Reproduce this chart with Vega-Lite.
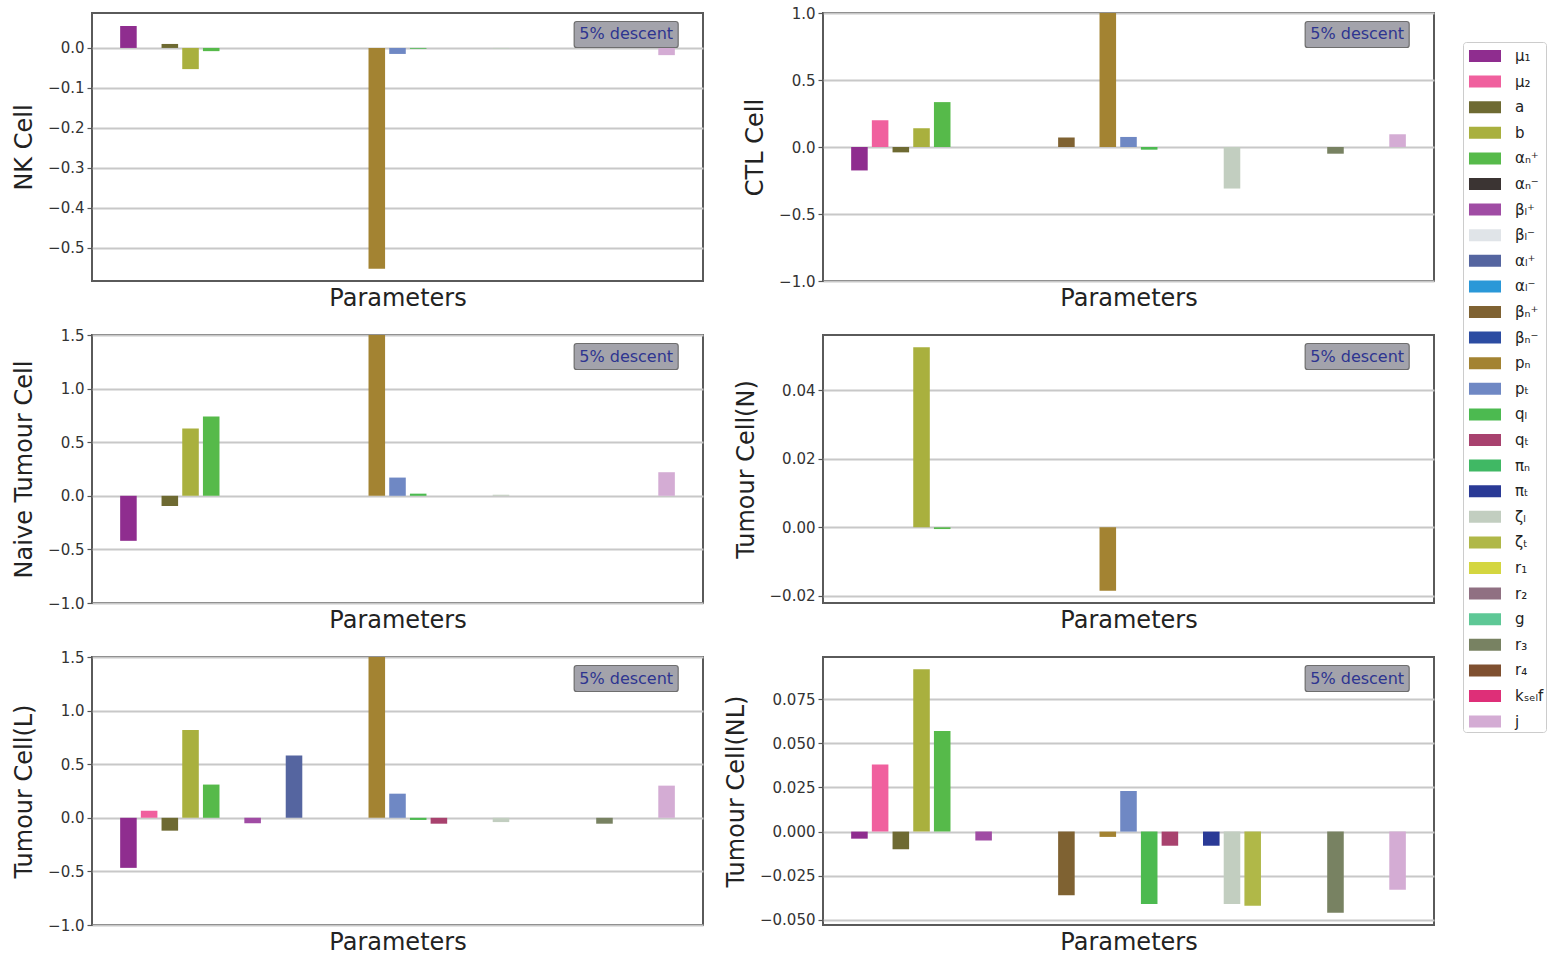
{
  "$schema": "https://vega.github.io/schema/vega-lite/v6.json",
  "padding": {"left": 11, "top": 5, "right": 0, "bottom": 5},
  "background": "white",
  "config": {
    "font": "DejaVu Sans",
    "view": {"stroke": "#5a5a5a", "strokeWidth": 2},
    "axisY": {
      "domain": false, "ticks": true, "tickColor": "#555555", "tickSize": 5, "tickWidth": 1.2,
      "labelFontSize": 15, "labelColor": "#333333", "labelPadding": 3,
      "titleFontSize": 24, "titleFontWeight": "normal", "titleColor": "#222222", "titlePadding": 11,
      "grid": true, "gridColor": "#c8c8c8", "gridWidth": 2, "zindex": 1
    },
    "axisX": {
      "domain": false, "ticks": false, "labels": false, "grid": false,
      "titleFontSize": 24, "titleFontWeight": "normal", "titleColor": "#222222", "titlePadding": 5
    },
    "legend": {
      "orient": "none", "legendX": 1371, "legendY": 29,
      "strokeColor": "#cccccc", "fillColor": "white", "cornerRadius": 3, "padding": 2,
      "symbolType": "M-0.667,-0.5H2V0.5H-0.667Z", "symbolSize": 576, "symbolStrokeWidth": 0,
      "symbolOpacity": 1, "labelFontSize": 15, "labelColor": "#222222", "labelOffset": 26,
      "rowPadding": 5.6, "labelLimit": 200
    }
  },
  "datasets": {
    "nk": [
      {"param": "μ₁", "value": 0.055}, {"param": "a", "value": 0.01}, {"param": "b", "value": -0.053},
      {"param": "αₙ⁺", "value": -0.008}, {"param": "pₙ", "value": -0.553}, {"param": "pₜ", "value": -0.015},
      {"param": "qₗ", "value": -0.002}, {"param": "ζₗ", "value": -0.002}, {"param": "j", "value": -0.018}
    ],
    "ctl": [
      {"param": "μ₁", "value": -0.175}, {"param": "μ₂", "value": 0.2}, {"param": "a", "value": -0.04},
      {"param": "b", "value": 0.14}, {"param": "αₙ⁺", "value": 0.335}, {"param": "βₙ⁺", "value": 0.07},
      {"param": "pₙ", "value": 1.4}, {"param": "pₜ", "value": 0.075}, {"param": "qₗ", "value": -0.02},
      {"param": "ζₗ", "value": -0.31}, {"param": "r₃", "value": -0.05}, {"param": "j", "value": 0.095}
    ],
    "naive": [
      {"param": "μ₁", "value": -0.42}, {"param": "a", "value": -0.095}, {"param": "b", "value": 0.627},
      {"param": "αₙ⁺", "value": 0.74}, {"param": "pₙ", "value": 2.0}, {"param": "pₜ", "value": 0.17},
      {"param": "qₗ", "value": 0.02}, {"param": "ζₗ", "value": 0.01}, {"param": "j", "value": 0.22}
    ],
    "tn": [
      {"param": "b", "value": 0.0525}, {"param": "αₙ⁺", "value": -0.0005}, {"param": "pₙ", "value": -0.0185}
    ],
    "tl": [
      {"param": "μ₁", "value": -0.467}, {"param": "μ₂", "value": 0.065}, {"param": "a", "value": -0.12},
      {"param": "b", "value": 0.82}, {"param": "αₙ⁺", "value": 0.31}, {"param": "βₗ⁺", "value": -0.05},
      {"param": "αₗ⁺", "value": 0.58}, {"param": "pₙ", "value": 2.0}, {"param": "pₜ", "value": 0.225},
      {"param": "qₗ", "value": -0.02}, {"param": "qₜ", "value": -0.055}, {"param": "ζₗ", "value": -0.04},
      {"param": "r₃", "value": -0.055}, {"param": "j", "value": 0.3}
    ],
    "nl": [
      {"param": "μ₁", "value": -0.004}, {"param": "μ₂", "value": 0.038}, {"param": "a", "value": -0.01},
      {"param": "b", "value": 0.092}, {"param": "αₙ⁺", "value": 0.057}, {"param": "βₗ⁺", "value": -0.005},
      {"param": "βₙ⁺", "value": -0.036}, {"param": "pₙ", "value": -0.003}, {"param": "pₜ", "value": 0.023},
      {"param": "qₗ", "value": -0.041}, {"param": "qₜ", "value": -0.008}, {"param": "πₜ", "value": -0.008},
      {"param": "ζₗ", "value": -0.041}, {"param": "ζₜ", "value": -0.042}, {"param": "r₃", "value": -0.046},
      {"param": "j", "value": -0.033}
    ],
    "note": [{"note": "5% descent"}]
  },
  "columns": 2,
  "bounds": "flush",
  "spacing": {"row": 54, "column": 120},
  "resolve": {"scale": {"color": "shared"}},
  "concat": [
    {
      "width": 611, "height": 268,
      "layer": [
        {
          "data": {"name": "nk"},
          "mark": {"type": "bar", "clip": true},
          "encoding": {
            "x": {"field": "param", "type": "nominal", "scale": {"domain": ["pad-left","μ₁","μ₂","a","b","αₙ⁺","αₙ⁻","βₗ⁺","βₗ⁻","αₗ⁺","αₗ⁻","βₙ⁺","βₙ⁻","pₙ","pₜ","qₗ","qₜ","πₙ","πₜ","ζₗ","ζₜ","r₁","r₂","g","r₃","r₄","kₛₑₗf","j","pad-right"], "paddingInner": 0.2, "paddingOuter": 0.36}, "axis": {"title": "Parameters"}},
            "y": {"field": "value", "type": "quantitative", "scale": {"domain": [-0.5835, 0.0875], "nice": false, "zero": false}, "axis": {"title": "NK Cell", "values": [-0.5, -0.4, -0.3, -0.2, -0.1, 0.0], "format": ".1f"}},
            "color": {"field": "param", "type": "nominal", "scale": {"domain": ["μ₁","μ₂","a","b","αₙ⁺","αₙ⁻","βₗ⁺","βₗ⁻","αₗ⁺","αₗ⁻","βₙ⁺","βₙ⁻","pₙ","pₜ","qₗ","qₜ","πₙ","πₜ","ζₗ","ζₜ","r₁","r₂","g","r₃","r₄","kₛₑₗf","j"], "range": ["#8f2d8f","#f0609e","#6e6a32","#a9b03e","#56ba4a","#3b3433","#a04ca4","#e0e4e8","#5565a0","#2a98d8","#7f6232","#2c4ca2","#a38332","#6f88c4","#4cba50","#a8426e","#40b864","#2a3a96","#c2cec0","#b0b848","#d4d640","#907082","#5ec896","#788262","#7f5030","#de2f78","#d4acd4"]}, "legend": {"title": null}}
          }
        },
        {
          "data": {"name": "note"},
          "mark": {"type": "point", "shape": "M-1.9,-0.5H1.9Q2,-0.5 2,-0.4V0.4Q2,0.5 1.9,0.5H-1.9Q-2,0.5 -2,0.4V-0.4Q-2,-0.5 -1.9,-0.5Z", "size": 2704, "filled": true, "fill": "#a3a3ab", "stroke": "#6e6e6e", "strokeWidth": 1.2, "opacity": 1, "xOffset": 1},
          "encoding": {"x": {"datum": "r₄", "type": "nominal"}, "y": {"datum": 0.0337, "type": "quantitative"}}
        },
        {
          "data": {"name": "note"},
          "mark": {"type": "text", "fontSize": 16, "color": "#2e3590", "xOffset": 1},
          "encoding": {"x": {"datum": "r₄", "type": "nominal"}, "y": {"datum": 0.0337, "type": "quantitative"}, "text": {"field": "note"}}
        }
      ]
    },
    {
      "width": 611, "height": 268,
      "layer": [
        {
          "data": {"name": "ctl"},
          "mark": {"type": "bar", "clip": true},
          "encoding": {
            "x": {"field": "param", "type": "nominal", "scale": {"domain": ["pad-left","μ₁","μ₂","a","b","αₙ⁺","αₙ⁻","βₗ⁺","βₗ⁻","αₗ⁺","αₗ⁻","βₙ⁺","βₙ⁻","pₙ","pₜ","qₗ","qₜ","πₙ","πₜ","ζₗ","ζₜ","r₁","r₂","g","r₃","r₄","kₛₑₗf","j","pad-right"], "paddingInner": 0.2, "paddingOuter": 0.36}, "axis": {"title": "Parameters"}},
            "y": {"field": "value", "type": "quantitative", "scale": {"domain": [-1, 1], "nice": false, "zero": false}, "axis": {"title": "CTL Cell", "values": [-1, -0.5, 0, 0.5, 1], "format": ".1f"}},
            "color": {"field": "param", "type": "nominal", "scale": {"domain": ["μ₁","μ₂","a","b","αₙ⁺","αₙ⁻","βₗ⁺","βₗ⁻","αₗ⁺","αₗ⁻","βₙ⁺","βₙ⁻","pₙ","pₜ","qₗ","qₜ","πₙ","πₜ","ζₗ","ζₜ","r₁","r₂","g","r₃","r₄","kₛₑₗf","j"], "range": ["#8f2d8f","#f0609e","#6e6a32","#a9b03e","#56ba4a","#3b3433","#a04ca4","#e0e4e8","#5565a0","#2a98d8","#7f6232","#2c4ca2","#a38332","#6f88c4","#4cba50","#a8426e","#40b864","#2a3a96","#c2cec0","#b0b848","#d4d640","#907082","#5ec896","#788262","#7f5030","#de2f78","#d4acd4"]}, "legend": {"title": null}}
          }
        },
        {
          "data": {"name": "note"},
          "mark": {"type": "point", "shape": "M-1.9,-0.5H1.9Q2,-0.5 2,-0.4V0.4Q2,0.5 1.9,0.5H-1.9Q-2,0.5 -2,0.4V-0.4Q-2,-0.5 -1.9,-0.5Z", "size": 2704, "filled": true, "fill": "#a3a3ab", "stroke": "#6e6e6e", "strokeWidth": 1.2, "opacity": 1, "xOffset": 1},
          "encoding": {"x": {"datum": "r₄", "type": "nominal"}, "y": {"datum": 0.8396, "type": "quantitative"}}
        },
        {
          "data": {"name": "note"},
          "mark": {"type": "text", "fontSize": 16, "color": "#2e3590", "xOffset": 1},
          "encoding": {"x": {"datum": "r₄", "type": "nominal"}, "y": {"datum": 0.8396, "type": "quantitative"}, "text": {"field": "note"}}
        }
      ]
    },
    {
      "width": 611, "height": 268,
      "layer": [
        {
          "data": {"name": "naive"},
          "mark": {"type": "bar", "clip": true},
          "encoding": {
            "x": {"field": "param", "type": "nominal", "scale": {"domain": ["pad-left","μ₁","μ₂","a","b","αₙ⁺","αₙ⁻","βₗ⁺","βₗ⁻","αₗ⁺","αₗ⁻","βₙ⁺","βₙ⁻","pₙ","pₜ","qₗ","qₜ","πₙ","πₜ","ζₗ","ζₜ","r₁","r₂","g","r₃","r₄","kₛₑₗf","j","pad-right"], "paddingInner": 0.2, "paddingOuter": 0.36}, "axis": {"title": "Parameters"}},
            "y": {"field": "value", "type": "quantitative", "scale": {"domain": [-1, 1.5], "nice": false, "zero": false}, "axis": {"title": "Naive Tumour Cell", "values": [-1, -0.5, 0, 0.5, 1, 1.5], "format": ".1f"}},
            "color": {"field": "param", "type": "nominal", "scale": {"domain": ["μ₁","μ₂","a","b","αₙ⁺","αₙ⁻","βₗ⁺","βₗ⁻","αₗ⁺","αₗ⁻","βₙ⁺","βₙ⁻","pₙ","pₜ","qₗ","qₜ","πₙ","πₜ","ζₗ","ζₜ","r₁","r₂","g","r₃","r₄","kₛₑₗf","j"], "range": ["#8f2d8f","#f0609e","#6e6a32","#a9b03e","#56ba4a","#3b3433","#a04ca4","#e0e4e8","#5565a0","#2a98d8","#7f6232","#2c4ca2","#a38332","#6f88c4","#4cba50","#a8426e","#40b864","#2a3a96","#c2cec0","#b0b848","#d4d640","#907082","#5ec896","#788262","#7f5030","#de2f78","#d4acd4"]}, "legend": {"title": null}}
          }
        },
        {
          "data": {"name": "note"},
          "mark": {"type": "point", "shape": "M-1.9,-0.5H1.9Q2,-0.5 2,-0.4V0.4Q2,0.5 1.9,0.5H-1.9Q-2,0.5 -2,0.4V-0.4Q-2,-0.5 -1.9,-0.5Z", "size": 2704, "filled": true, "fill": "#a3a3ab", "stroke": "#6e6e6e", "strokeWidth": 1.2, "opacity": 1, "xOffset": 1},
          "encoding": {"x": {"datum": "r₄", "type": "nominal"}, "y": {"datum": 1.2994, "type": "quantitative"}}
        },
        {
          "data": {"name": "note"},
          "mark": {"type": "text", "fontSize": 16, "color": "#2e3590", "xOffset": 1},
          "encoding": {"x": {"datum": "r₄", "type": "nominal"}, "y": {"datum": 1.2994, "type": "quantitative"}, "text": {"field": "note"}}
        }
      ]
    },
    {
      "width": 611, "height": 268,
      "layer": [
        {
          "data": {"name": "tn"},
          "mark": {"type": "bar", "clip": true},
          "encoding": {
            "x": {"field": "param", "type": "nominal", "scale": {"domain": ["pad-left","μ₁","μ₂","a","b","αₙ⁺","αₙ⁻","βₗ⁺","βₗ⁻","αₗ⁺","αₗ⁻","βₙ⁺","βₙ⁻","pₙ","pₜ","qₗ","qₜ","πₙ","πₜ","ζₗ","ζₜ","r₁","r₂","g","r₃","r₄","kₛₑₗf","j","pad-right"], "paddingInner": 0.2, "paddingOuter": 0.36}, "axis": {"title": "Parameters"}},
            "y": {"field": "value", "type": "quantitative", "scale": {"domain": [-0.02205, 0.05605], "nice": false, "zero": false}, "axis": {"title": "Tumour Cell(N)", "values": [-0.02, 0, 0.02, 0.04], "format": ".2f"}},
            "color": {"field": "param", "type": "nominal", "scale": {"domain": ["μ₁","μ₂","a","b","αₙ⁺","αₙ⁻","βₗ⁺","βₗ⁻","αₗ⁺","αₗ⁻","βₙ⁺","βₙ⁻","pₙ","pₜ","qₗ","qₜ","πₙ","πₜ","ζₗ","ζₜ","r₁","r₂","g","r₃","r₄","kₛₑₗf","j"], "range": ["#8f2d8f","#f0609e","#6e6a32","#a9b03e","#56ba4a","#3b3433","#a04ca4","#e0e4e8","#5565a0","#2a98d8","#7f6232","#2c4ca2","#a38332","#6f88c4","#4cba50","#a8426e","#40b864","#2a3a96","#c2cec0","#b0b848","#d4d640","#907082","#5ec896","#788262","#7f5030","#de2f78","#d4acd4"]}, "legend": {"title": null}}
          }
        },
        {
          "data": {"name": "note"},
          "mark": {"type": "point", "shape": "M-1.9,-0.5H1.9Q2,-0.5 2,-0.4V0.4Q2,0.5 1.9,0.5H-1.9Q-2,0.5 -2,0.4V-0.4Q-2,-0.5 -1.9,-0.5Z", "size": 2704, "filled": true, "fill": "#a3a3ab", "stroke": "#6e6e6e", "strokeWidth": 1.2, "opacity": 1, "xOffset": 1},
          "encoding": {"x": {"datum": "r₄", "type": "nominal"}, "y": {"datum": 0.04978, "type": "quantitative"}}
        },
        {
          "data": {"name": "note"},
          "mark": {"type": "text", "fontSize": 16, "color": "#2e3590", "xOffset": 1},
          "encoding": {"x": {"datum": "r₄", "type": "nominal"}, "y": {"datum": 0.04978, "type": "quantitative"}, "text": {"field": "note"}}
        }
      ]
    },
    {
      "width": 611, "height": 268,
      "layer": [
        {
          "data": {"name": "tl"},
          "mark": {"type": "bar", "clip": true},
          "encoding": {
            "x": {"field": "param", "type": "nominal", "scale": {"domain": ["pad-left","μ₁","μ₂","a","b","αₙ⁺","αₙ⁻","βₗ⁺","βₗ⁻","αₗ⁺","αₗ⁻","βₙ⁺","βₙ⁻","pₙ","pₜ","qₗ","qₜ","πₙ","πₜ","ζₗ","ζₜ","r₁","r₂","g","r₃","r₄","kₛₑₗf","j","pad-right"], "paddingInner": 0.2, "paddingOuter": 0.36}, "axis": {"title": "Parameters"}},
            "y": {"field": "value", "type": "quantitative", "scale": {"domain": [-1, 1.5], "nice": false, "zero": false}, "axis": {"title": "Tumour Cell(L)", "values": [-1, -0.5, 0, 0.5, 1, 1.5], "format": ".1f"}},
            "color": {"field": "param", "type": "nominal", "scale": {"domain": ["μ₁","μ₂","a","b","αₙ⁺","αₙ⁻","βₗ⁺","βₗ⁻","αₗ⁺","αₗ⁻","βₙ⁺","βₙ⁻","pₙ","pₜ","qₗ","qₜ","πₙ","πₜ","ζₗ","ζₜ","r₁","r₂","g","r₃","r₄","kₛₑₗf","j"], "range": ["#8f2d8f","#f0609e","#6e6a32","#a9b03e","#56ba4a","#3b3433","#a04ca4","#e0e4e8","#5565a0","#2a98d8","#7f6232","#2c4ca2","#a38332","#6f88c4","#4cba50","#a8426e","#40b864","#2a3a96","#c2cec0","#b0b848","#d4d640","#907082","#5ec896","#788262","#7f5030","#de2f78","#d4acd4"]}, "legend": {"title": null}}
          }
        },
        {
          "data": {"name": "note"},
          "mark": {"type": "point", "shape": "M-1.9,-0.5H1.9Q2,-0.5 2,-0.4V0.4Q2,0.5 1.9,0.5H-1.9Q-2,0.5 -2,0.4V-0.4Q-2,-0.5 -1.9,-0.5Z", "size": 2704, "filled": true, "fill": "#a3a3ab", "stroke": "#6e6e6e", "strokeWidth": 1.2, "opacity": 1, "xOffset": 1},
          "encoding": {"x": {"datum": "r₄", "type": "nominal"}, "y": {"datum": 1.2994, "type": "quantitative"}}
        },
        {
          "data": {"name": "note"},
          "mark": {"type": "text", "fontSize": 16, "color": "#2e3590", "xOffset": 1},
          "encoding": {"x": {"datum": "r₄", "type": "nominal"}, "y": {"datum": 1.2994, "type": "quantitative"}, "text": {"field": "note"}}
        }
      ]
    },
    {
      "width": 611, "height": 268,
      "layer": [
        {
          "data": {"name": "nl"},
          "mark": {"type": "bar", "clip": true},
          "encoding": {
            "x": {"field": "param", "type": "nominal", "scale": {"domain": ["pad-left","μ₁","μ₂","a","b","αₙ⁺","αₙ⁻","βₗ⁺","βₗ⁻","αₗ⁺","αₗ⁻","βₙ⁺","βₙ⁻","pₙ","pₜ","qₗ","qₜ","πₙ","πₜ","ζₗ","ζₜ","r₁","r₂","g","r₃","r₄","kₛₑₗf","j","pad-right"], "paddingInner": 0.2, "paddingOuter": 0.36}, "axis": {"title": "Parameters"}},
            "y": {"field": "value", "type": "quantitative", "scale": {"domain": [-0.0529, 0.0989], "nice": false, "zero": false}, "axis": {"title": "Tumour Cell(NL)", "values": [-0.05, -0.025, 0, 0.025, 0.05, 0.075], "format": ".3f"}},
            "color": {"field": "param", "type": "nominal", "scale": {"domain": ["μ₁","μ₂","a","b","αₙ⁺","αₙ⁻","βₗ⁺","βₗ⁻","αₗ⁺","αₗ⁻","βₙ⁺","βₙ⁻","pₙ","pₜ","qₗ","qₜ","πₙ","πₜ","ζₗ","ζₜ","r₁","r₂","g","r₃","r₄","kₛₑₗf","j"], "range": ["#8f2d8f","#f0609e","#6e6a32","#a9b03e","#56ba4a","#3b3433","#a04ca4","#e0e4e8","#5565a0","#2a98d8","#7f6232","#2c4ca2","#a38332","#6f88c4","#4cba50","#a8426e","#40b864","#2a3a96","#c2cec0","#b0b848","#d4d640","#907082","#5ec896","#788262","#7f5030","#de2f78","#d4acd4"]}, "legend": {"title": null}}
          }
        },
        {
          "data": {"name": "note"},
          "mark": {"type": "point", "shape": "M-1.9,-0.5H1.9Q2,-0.5 2,-0.4V0.4Q2,0.5 1.9,0.5H-1.9Q-2,0.5 -2,0.4V-0.4Q-2,-0.5 -1.9,-0.5Z", "size": 2704, "filled": true, "fill": "#a3a3ab", "stroke": "#6e6e6e", "strokeWidth": 1.2, "opacity": 1, "xOffset": 1},
          "encoding": {"x": {"datum": "r₄", "type": "nominal"}, "y": {"datum": 0.08672, "type": "quantitative"}}
        },
        {
          "data": {"name": "note"},
          "mark": {"type": "text", "fontSize": 16, "color": "#2e3590", "xOffset": 1},
          "encoding": {"x": {"datum": "r₄", "type": "nominal"}, "y": {"datum": 0.08672, "type": "quantitative"}, "text": {"field": "note"}}
        }
      ]
    }
  ]
}
